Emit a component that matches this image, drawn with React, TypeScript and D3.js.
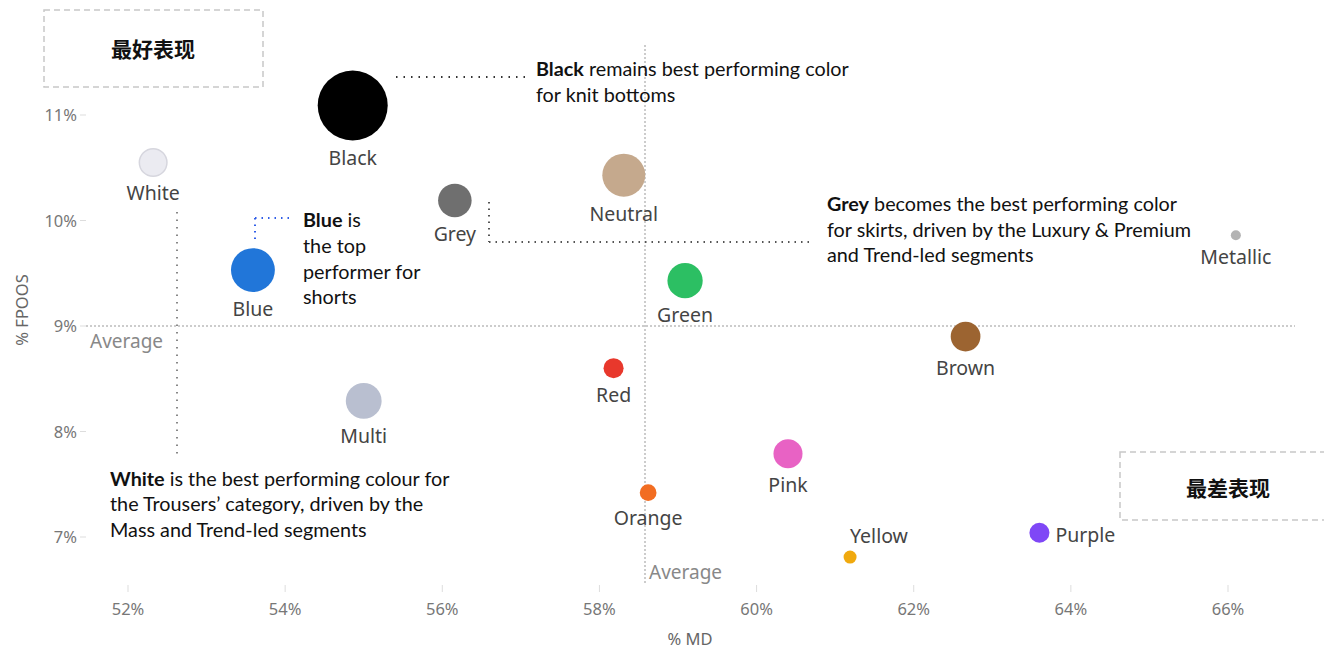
import React from "react";
import * as d3 from "d3";

const colorNames = ["Black", "White", "Grey", "Neutral", "Blue", "Green", "Metallic", "Brown", "Red", "Multi", "Pink", "Orange", "Yellow", "Purple"];
const mdValues = [54.86, 52.32, 56.16, 58.31, 53.59, 59.09, 66.1, 62.66, 58.18, 55.0, 60.4, 58.62, 61.19, 63.6];
const fpoosValues = [11.09, 10.55, 10.19, 10.43, 9.53, 9.43, 9.86, 8.9, 8.6, 8.29, 7.79, 7.42, 6.81, 7.04];
const sizeValues = [122, 19, 28, 46, 48, 31, 2.5, 22, 10, 32, 21, 7, 4.2, 10];
const fillColors = ["#000000", "#ebebf1", "#6f6f6f", "#c5a98d", "#2176d9", "#2cbf63", "#b3b3b3", "#9c6431", "#e8382c", "#b9bfd0", "#e862c4", "#f26d22", "#f0a90e", "#7f47f6"];
const labelPos = ["below", "below", "below", "below", "below", "below", "below", "below", "below", "below", "below", "below", "above", "right"];

const xTicks = [52, 54, 56, 58, 60, 62, 64, 66];
const yTicks = [7, 8, 9, 10, 11];
const avgMD = 58.58;
const avgFPOOS = 9.0;

const W = 1324;
const H = 650;

export default function App() {
  const x = d3.scaleLinear().domain([52, 66]).range([128, 1228]);
  const y = d3.scaleLinear().domain([7, 11]).range([537, 115]);
  const r = d3.scaleSqrt().domain([0, 122]).range([0, 35]);

  const tickFont = "'Noto Sans', sans-serif";
  const annFont = "Lato, 'Open Sans', sans-serif";
  const annSize = 19.8;

  return (
    <div style={{ position: "absolute", left: 0, top: 0 }}>
      <svg width={W} height={H} style={{ display: "block", background: "#fff" }}>
        {/* Best / worst boxes */}
        <rect x={44} y={10} width={219} height={77} fill="none" stroke="#c8c8c8" strokeWidth={1.5} strokeDasharray="6,4" />
        <text x={153} y={57} textAnchor="middle" fontFamily="'Noto Sans CJK SC', sans-serif" fontWeight="bold" fontSize={21} fill="#111">最好表现</text>
        <rect x={1120} y={452} width={220} height={68} fill="none" stroke="#c8c8c8" strokeWidth={1.5} strokeDasharray="6,4" />
        <text x={1228} y={496} textAnchor="middle" fontFamily="'Noto Sans CJK SC', sans-serif" fontWeight="bold" fontSize={21} fill="#111">最差表现</text>

        {/* Y axis ticks */}
        {yTicks.map((t) => (
          <g key={"y" + t}>
            <line x1={80} x2={86} y1={y(t)} y2={y(t)} stroke="#ddd" />
            <text x={77} y={y(t) + 6} textAnchor="end" fontFamily={tickFont} fontSize={16.5} fill="#777">{t}%</text>
          </g>
        ))}
        <text transform={`translate(28,310) rotate(-90)`} textAnchor="middle" fontFamily={tickFont} fontSize={16.5} fill="#666">% FPOOS</text>

        {/* X axis ticks */}
        {xTicks.map((t) => (
          <g key={"x" + t}>
            <line x1={x(t)} x2={x(t)} y1={585} y2={592} stroke="#ddd" />
            <text x={x(t)} y={615} textAnchor="middle" fontFamily={tickFont} fontSize={16.5} fill="#777">{t}%</text>
          </g>
        ))}
        <text x={690} y={645} textAnchor="middle" fontFamily={tickFont} fontSize={16.5} fill="#666">% MD</text>

        {/* Average lines */}
        <line x1={86} x2={1295} y1={y(avgFPOOS)} y2={y(avgFPOOS)} stroke="#999" strokeWidth={1} strokeDasharray="2,2" />
        <line x1={x(avgMD)} x2={x(avgMD)} y1={45} y2={585} stroke="#999" strokeWidth={1} strokeDasharray="2,2" />
        <text x={90} y={348} fontFamily={tickFont} fontSize={19} fill="#888">Average</text>
        <text x={x(avgMD) + 4} y={579} fontFamily={tickFont} fontSize={19} fill="#888">Average</text>

        {/* Annotation leader lines */}
        <line x1={396} x2={526} y1={77} y2={77} stroke="#333" strokeWidth={2} strokeDasharray="1.5,6" />
        <line x1={255} x2={255} y1={218} y2={244} stroke="#2f5de8" strokeWidth={2} strokeDasharray="1.5,5" />
        <line x1={255} x2={290} y1={218} y2={218} stroke="#2f5de8" strokeWidth={2} strokeDasharray="1.5,5" />
        <line x1={489} x2={489} y1={202} y2={242} stroke="#555" strokeWidth={2} strokeDasharray="1.5,5" />
        <line x1={489} x2={810} y1={242} y2={242} stroke="#555" strokeWidth={2} strokeDasharray="1.5,5" />
        <line x1={177} x2={177} y1={212} y2={455} stroke="#888" strokeWidth={2} strokeDasharray="1.5,6" />

        {/* Bubbles */}
        {colorNames.map((name, i) => {
          const cx = x(mdValues[i]);
          const cy = y(fpoosValues[i]);
          const rr = r(sizeValues[i]);
          let lx = cx, ly = cy + rr + 24, anchor: "middle" | "start" = "middle";
          if (labelPos[i] === "above") { lx = cx; ly = cy - rr - 8; anchor = "start"; }
          if (labelPos[i] === "right") { lx = cx + rr + 6; ly = cy + 9; anchor = "start"; }
          return (
            <g key={name}>
              <circle cx={cx} cy={cy} r={rr} fill={fillColors[i]} stroke={name === "White" ? "#d6d6de" : "none"} strokeWidth={name === "White" ? 1.5 : 0} />
              <text x={lx} y={ly} textAnchor={anchor} fontFamily={tickFont} fontSize={19.5} fill="#444">{name}</text>
            </g>
          );
        })}

        {/* Annotations */}
        <text fontFamily={annFont} fontSize={annSize} fill="#111">
          <tspan x={536} y={76}><tspan fontWeight="bold">Black</tspan> remains best performing color</tspan>
          <tspan x={536} y={102}>for knit bottoms</tspan>
        </text>
        <text fontFamily={annFont} fontSize={annSize} fill="#111">
          <tspan x={303} y={227}><tspan fontWeight="bold">Blue</tspan> is</tspan>
          <tspan x={303} y={253}>the top</tspan>
          <tspan x={303} y={279}>performer for</tspan>
          <tspan x={303} y={304}>shorts</tspan>
        </text>
        <text fontFamily={annFont} fontSize={annSize} fill="#111">
          <tspan x={827} y={211}><tspan fontWeight="bold">Grey</tspan> becomes the best performing color</tspan>
          <tspan x={827} y={237}>for skirts, driven by the Luxury &amp; Premium</tspan>
          <tspan x={827} y={262}>and Trend-led segments</tspan>
        </text>
        <text fontFamily={annFont} fontSize={annSize} fill="#111">
          <tspan x={110} y={486}><tspan fontWeight="bold">White</tspan> is the best performing colour for</tspan>
          <tspan x={110} y={511}>the Trousers’ category, driven by the</tspan>
          <tspan x={110} y={537}>Mass and Trend-led segments</tspan>
        </text>
      </svg>
    </div>
  );
}
